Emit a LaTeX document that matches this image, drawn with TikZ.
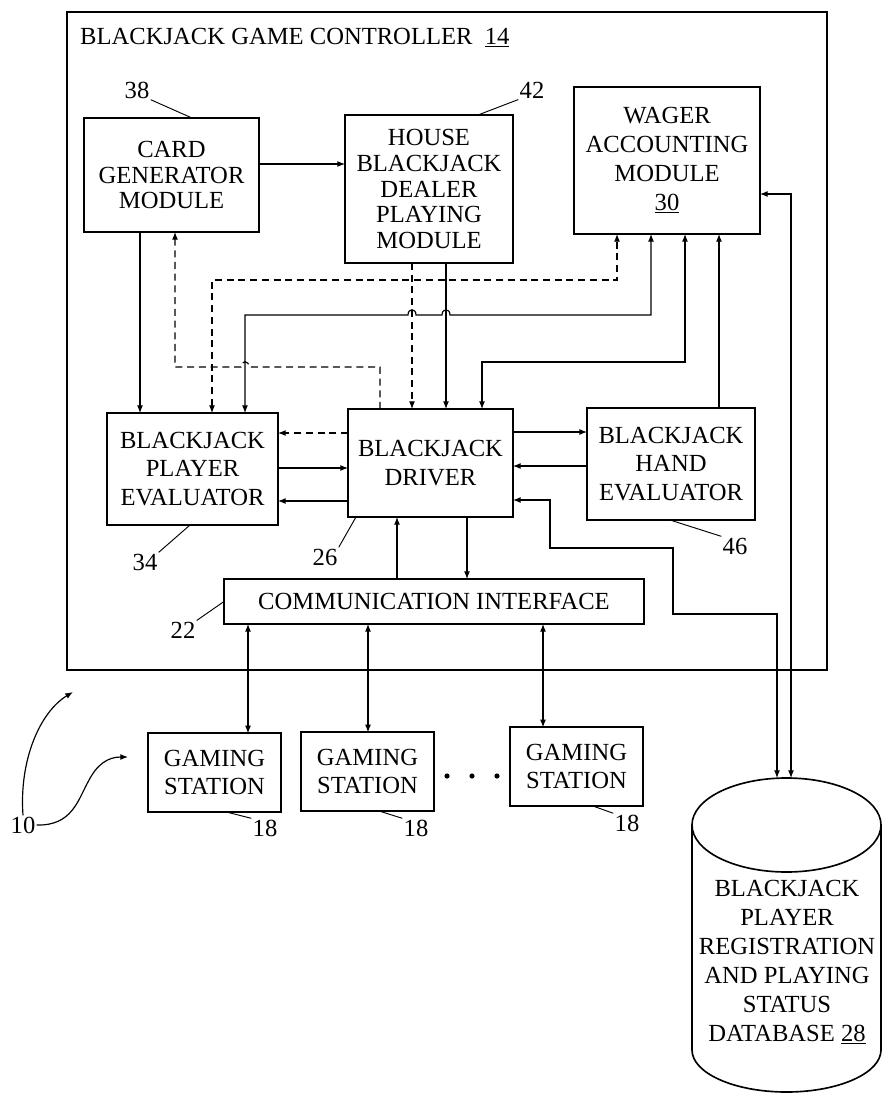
\documentclass[tikz,border=0pt]{standalone}
\usepackage{fontspec}
\setmainfont{Liberation Serif}
\usetikzlibrary{arrows.meta}
\newcommand{\bjfont}{\fontsize{21}{24}\selectfont}

\begin{document}
\begin{tikzpicture}[x=0.03cm, y=-0.03cm,
  >={Latex[length=2.3mm,width=1.8mm]},
  box/.style={draw, line width=1.6pt, inner sep=0pt, outer sep=0pt, align=center, font=\bjfont},
  tight/.style={font=\fontsize{21}{22}\selectfont},
  wire/.style={line width=1pt},
  dsh/.style={wire, dash pattern=on 6pt off 4pt},
  lbl/.style={font=\bjfont, inner sep=1pt},
  lead/.style={line width=0.8pt}]
\useasboundingbox (0,0) rectangle (883,1095);

% ── game controller frame
\draw[line width=1.5pt] (67,12) rectangle (827,670);
\node[anchor=base west, inner sep=0pt, font=\bjfont] (title) at (80,45) {BLACKJACK GAME CONTROLLER\ \ \underline{14}};

% ── modules
\node[box, tight, minimum width=5.25cm, minimum height=3.42cm] (card) at (171.5,175) {CARD\\GENERATOR\\MODULE};
\node[box, tight, minimum width=5.04cm, minimum height=4.44cm] (house) at (429,189) {HOUSE\\BLACKJACK\\DEALER\\PLAYING\\MODULE};
\node[box, minimum width=5.58cm, minimum height=4.41cm, font=\fontsize{21}{24.7}\selectfont] (wager) at (667,160.5) {WAGER\\ACCOUNTING\\MODULE\\\underline{30}};
\node[box, minimum width=5.13cm, minimum height=3.36cm] (player) at (192.5,469) {BLACKJACK\\PLAYER\\EVALUATOR};
\node[box, minimum width=4.95cm, minimum height=3.24cm] (driver) at (430.5,463) {BLACKJACK\\DRIVER};
\node[box, minimum width=5.04cm, minimum height=3.36cm] (hand) at (671,464) {BLACKJACK\\HAND\\EVALUATOR};
\node[box, minimum width=12.6cm, minimum height=1.35cm] (comm) at (434,601.5) {COMMUNICATION INTERFACE};
\foreach \n/\x/\y in {1/214.5/772.5, 2/367.5/771.5, 3/576.5/766.5}
  \node[box, minimum width=4cm, minimum height=2.35cm] (gs\n) at (\x,\y) {GAMING\\STATION};
\foreach \x in {447,472,497} \fill (\x,776) circle [radius=2.6];

% ── database cylinder
\draw[line width=1.4pt] (786.5,825) ellipse [x radius=94.5, y radius=47];
\draw[line width=1.4pt] (692,825) -- (692,1050) .. controls (692,1073) and (734,1092) .. (786.5,1092)
  .. controls (839,1092) and (881,1073) .. (881,1050) -- (881,825);
\node[align=center, font=\fontsize{21}{24.7}\selectfont] (db) at (787,962) {BLACKJACK\\PLAYER\\REGISTRATION\\AND PLAYING\\STATUS\\DATABASE \underline{28}};
\coordinate (dbA) at (777,778);
\coordinate (dbB) at (791,778);

% ── upper connectors
\draw[wire,->] (card.east |- 0,164) -- (house.west |- 0,164);
\draw[wire,->] (140,0 |- card.south) -- (140,0 |- player.north);
\draw[dsh,->] (380,0 |- driver.north) -- (380,367) -- (249,367) .. controls (249,360) and (241,360) .. (241,367) -- (175,367) -- (175,0 |- card.south);
\draw[dsh,<->] (212,0 |- player.north) -- (212,280) -- (617,280) -- (617,0 |- wager.south);
\draw[dsh,->] (412,0 |- house.south) -- (412,0 |- driver.north);
\draw[wire,->] (446,0 |- house.south) -- (446,0 |- driver.north);
\draw[wire,<->] (245,0 |- player.north) -- (245,315) -- (408,315) .. controls (408,308) and (416,308) .. (416,315)
  -- (442,315) .. controls (442,308) and (450,308) .. (450,315) -- (651,315) -- (651,0 |- wager.south);
\draw[wire,<->] (482,0 |- driver.north) -- (482,362) -- (685,362) -- (685,0 |- wager.south);
\draw[wire,->] (719,0 |- hand.north) -- (719,0 |- wager.south);

% ── driver links
\draw[dsh,->] (driver.west |- 0,433) -- (player.east |- 0,433);
\draw[wire,->] (player.east |- 0,468) -- (driver.west |- 0,468);
\draw[wire,->] (driver.west |- 0,501) -- (player.east |- 0,501);
\draw[wire,->] (driver.east |- 0,432) -- (hand.west |- 0,432);
\draw[wire,->] (hand.west |- 0,466) -- (driver.east |- 0,466);
\draw[wire,->] (397,0 |- comm.north) -- (397,0 |- driver.south);
\draw[wire,->] (467,0 |- driver.south) -- (467,0 |- comm.north);
\draw[wire,<->] (driver.east |- 0,500) -- (550,500) -- (550,548) -- (673,548) -- (673,614) -- (777,614) -- (dbA);
\draw[wire,<->] (wager.east |- 0,194) -- (791,194) -- (dbB);
\foreach \n/\x in {1/248, 2/368, 3/543}
  \draw[wire,<->] (\x,0 |- comm.south) -- (\x,0 |- gs\n.north);

% ── reference numerals
\node[lbl] (n38) at (137,90) {38};
\draw[lead] (n38.south east) -- (192,0 |- card.north);
\node[lbl] (n42) at (532,90) {42};
\draw[lead] (n42.south west) -- (478,0 |- house.north);
\node[lbl] (n34) at (145,562) {34};
\draw[lead] (n34.north east) -- (190,0 |- player.south);
\node[lbl] (n26) at (325,557) {26};
\draw[lead] (n26.north east) -- (356,0 |- driver.south);
\node[lbl] (n22) at (183,630) {22};
\draw[lead] (n22.north east) -- (comm.west);
\node[lbl] (n46) at (735,546) {46};
\draw[lead] (n46.north west) -- (670,0 |- hand.south);
\foreach \n/\a/\lx/\ly in {1/225/265/828, 2/378/416/828, 3/592/627/823}{
  \node[lbl] (n18\n) at (\lx,\ly) {18};
  \draw[lead] (n18\n.north west) -- (\a,0 |- gs\n.south);}
\node[lbl] (n10) at (23,825) {10};
\draw[wire,->] (n10.east) .. controls (72,826) and (78,800) .. (88,782) .. controls (97,764) and (108,757) .. (128,757);
\draw[wire,->] (n10.north) .. controls (19,760) and (40,712) .. (73,692);
\end{tikzpicture}
\end{document}
